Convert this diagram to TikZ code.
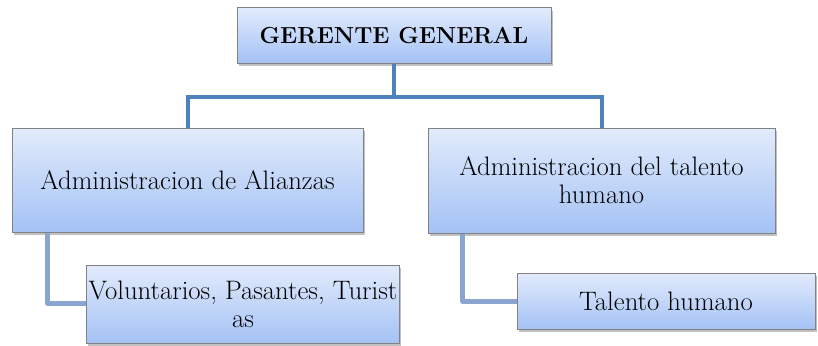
\documentclass[tikz,border=0pt]{standalone}
\usetikzlibrary{shadows,calc}
\definecolor{boxtop}{RGB}{226,235,252}
\definecolor{boxbot}{RGB}{164,194,245}
\definecolor{boxline}{RGB}{130,130,130}
\definecolor{mainconn}{RGB}{79,129,189}
\definecolor{subconn}{RGB}{138,166,208}
\tikzset{
  orgbox/.style={draw=boxline, line width=1pt, top color=boxtop, bottom color=boxbot,
    align=center, inner sep=2pt,
    drop shadow={shadow xshift=1.5pt, shadow yshift=-3pt, opacity=0.35, fill=black!70},
    font=\fontsize{26.7}{28}\selectfont},
  mainline/.style={draw=mainconn, line width=4pt},
  subline/.style={draw=subconn, line width=5pt, line join=round},
}
\begin{document}
\begin{tikzpicture}[x=1pt,y=-1pt]
\useasboundingbox (0,0) rectangle (818,345);
\node[orgbox, minimum width=314pt, minimum height=55pt, font=\fontsize{23.2}{28}\selectfont\bfseries] (top) at (394,35.5) {GERENTE GENERAL};
\node[orgbox, minimum width=351pt, minimum height=104pt] (L) at (187.5,180) {Administracion de Alianzas};
\node[orgbox, minimum width=347pt, minimum height=105pt] (R) at (601.5,180.5) {Administracion del talento\\humano};
\coordinate (bus) at (394,97);
\coordinate (lsub) at ($(L.south west)+(36,0)$);
\coordinate (rsub) at ($(R.south west)+(35,0)$);
\draw[subline] (lsub) |- (243,303);
\draw[subline] (rsub) |- (666,301);
\node[orgbox, minimum width=312pt, minimum height=78pt] (LC) at (243,304) {Voluntarios, Pasantes, Turist\\as};
\node[orgbox, minimum width=298pt, minimum height=56pt] (RC) at (666,301) {Talento humano};
\draw[mainline] (top.south) -- (bus);
\draw[mainline] (L.north) |- (bus) -| (R.north);
\end{tikzpicture}
\end{document}
